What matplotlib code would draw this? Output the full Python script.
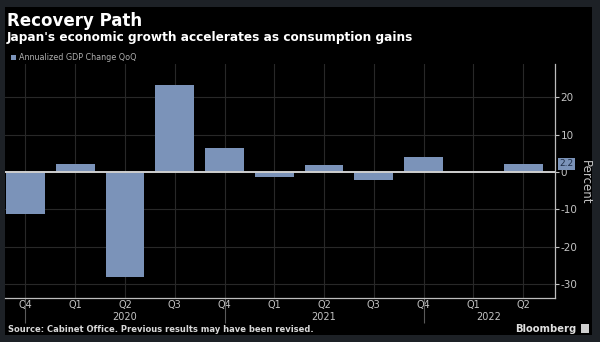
import matplotlib
matplotlib.use('Agg')
import matplotlib.pyplot as plt
from matplotlib.patches import Rectangle

# Annualized GDP change QoQ, Q4 2019 .. Q2 2022
quarters = ['Q4', 'Q1', 'Q2', 'Q3', 'Q4', 'Q1', 'Q2', 'Q3', 'Q4', 'Q1', 'Q2']
gdp_change = [-11.2, 2.2, -28.0, 23.3, 6.5, -1.3, 1.8, -2.0, 4.1, 0.1, 2.2]
years = ['2020', '2021', '2022']
year_pos = [2, 6, 9.3]
year_breaks = [0, 4, 8]
y_ticks = [-30, -20, -10, 0, 10, 20]

bar_color = '#7b93b9'
text_gray = '#c4c4c4'
grid_gray = '#282828'

fig = plt.figure(figsize=(6, 3.42), dpi=100)
fig.patch.set_facecolor('#1d2126')
# black panel inside the gray frame
fig.patches.append(Rectangle((5 / 600, 1 - 335 / 342), 587 / 600, 328 / 342,
                             transform=fig.transFigure, facecolor='black',
                             edgecolor='none', zorder=-5))

ax = fig.add_axes([5 / 600, 1 - 297.7 / 342, 550 / 600, (297.7 - 64) / 342])
ax.set_zorder(2)
ax.set_facecolor('black')

x = list(range(len(gdp_change)))
ax.bar(x, gdp_change, width=0.78, color=bar_color, zorder=3)
ax.axhline(0, color='#cfcfcf', lw=1.4, zorder=4)

ax.set_xlim(-0.41, 10.64)
ax.set_ylim(-33.6, 28.9)

ax.yaxis.tick_right()
ax.set_yticks(y_ticks)
ax.set_yticklabels([str(v) for v in y_ticks])
ax.tick_params(axis='y', colors=text_gray, labelsize=7.5, length=3, width=0.8, pad=1)

ax.set_xticks(x)
ax.set_xticklabels(quarters)
ax.tick_params(axis='x', colors=text_gray, labelsize=7, length=0, pad=2)
ax.xaxis.remove_overlapping_locs = False
ax.set_xticks(year_breaks, minor=True)
ax.tick_params(axis='x', which='minor', length=18, width=0.8, color='#5a5a5a')

ax.grid(True, color=grid_gray, lw=0.8, zorder=0)
ax.set_axisbelow(True)

for s in ['top', 'left']:
    ax.spines[s].set_visible(False)
ax.spines['right'].set_color('#bdbdbd')
ax.spines['bottom'].set_color('#bdbdbd')
ax.spines['right'].set_linewidth(0.9)
ax.spines['bottom'].set_linewidth(0.9)

for yr, pos in zip(years, year_pos):
    ax.annotate(yr, xy=(pos, 0), xycoords=('data', 'axes fraction'),
                xytext=(0, -10.5), textcoords='offset points',
                ha='center', va='top', color=text_gray, fontsize=7)

# last value tag
ax.annotate(f'{gdp_change[-1]:.1f}', xy=(1, gdp_change[-1]),
            xycoords=('axes fraction', 'data'), xytext=(3, 0),
            textcoords='offset points', ha='left', va='center',
            fontsize=6.5, color='#1c2b45',
            bbox=dict(boxstyle='square,pad=0.15', fc=bar_color, ec='none'))

fig.text(585 / 600, 1 - 182 / 342, 'Percent', rotation=270, ha='center',
         va='center', color=text_gray, fontsize=8.5)

fig.text(7 / 600, 1 - 26.5 / 342, 'Recovery Path', color='white', fontsize=12,
         fontweight='bold', ha='left', va='baseline')
fig.text(7 / 600, 1 - 41 / 342,
         "Japan's economic growth accelerates as consumption gains",
         color='white', fontsize=8.7, fontweight='bold', ha='left', va='baseline')

fig.patches.append(Rectangle((11 / 600, 1 - 60 / 342), 5 / 600, 5 / 342,
                             transform=fig.transFigure, facecolor=bar_color,
                             edgecolor='none'))
fig.text(19 / 600, 1 - 57.5 / 342, 'Annualized GDP Change QoQ', color='#b0b0b0',
         fontsize=5.8, ha='left', va='center')

fig.text(8 / 600, 1 - 332 / 342,
         'Source: Cabinet Office. Previous results may have been revised.',
         color='#d8d8d8', fontsize=6.0, fontweight='bold', ha='left', va='baseline')
fig.text(576 / 600, 1 - 332 / 342, 'Bloomberg', color='#e0e0e0', fontsize=7.2,
         fontweight='bold', ha='right', va='baseline')
fig.patches.append(Rectangle((581 / 600, 1 - 333 / 342), 8 / 600, 9 / 342,
                             transform=fig.transFigure, facecolor='#cfcfcf',
                             edgecolor='none'))

fig.savefig('out.png', dpi=100, facecolor=fig.get_facecolor())
